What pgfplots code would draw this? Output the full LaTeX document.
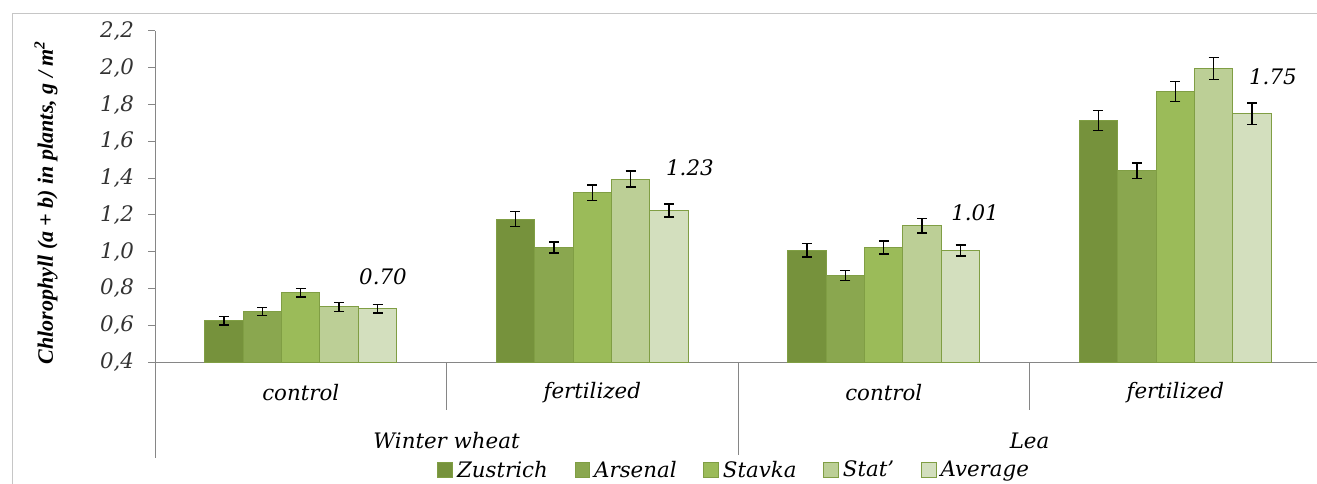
\documentclass[border=0pt]{standalone}
\usepackage{fontspec}
\setmainfont{DejaVu Serif}
\newfontfamily\tnr{Liberation Serif}
\usepackage{pgfplots}
\usepackage{pgfplotstable}
\pgfplotsset{compat=1.18}
\definecolor{cA}{RGB}{118,146,60}
\definecolor{cB}{RGB}{138,167,79}
\definecolor{cC}{RGB}{155,187,89}
\definecolor{cD}{RGB}{188,207,150}
\definecolor{cE}{RGB}{211,223,190}
\definecolor{cBorder}{RGB}{128,158,68}
\definecolor{axgray}{RGB}{134,134,134}
\newcommand\lab{\fontsize{16}{18}\selectfont\itshape}
\newcommand\ti[1]{\textit{\fontsize{16}{18}\selectfont #1}}

\pgfplotstableread{
x y e
0 0.624 0.023
1 1.177 0.040
2 1.007 0.036
3 1.713 0.054
}\zus
\pgfplotstableread{
x y e
0 0.675 0.023
1 1.023 0.030
2 0.871 0.026
3 1.440 0.043
}\ars
\pgfplotstableread{
x y e
0 0.777 0.024
1 1.320 0.043
2 1.023 0.035
3 1.871 0.056
}\sta
\pgfplotstableread{
x y e
0 0.700 0.024
1 1.395 0.043
2 1.141 0.040
3 1.996 0.060
}\stt
\pgfplotstableread{
x y e
0 0.690 0.024
1 1.224 0.036
2 1.007 0.030
3 1.751 0.058
}\avg

\pgfplotsset{
  mybar/.style={fill=#1, draw=cBorder, line width=0.75pt,
    error bars/y dir=both, error bars/y explicit,
    error bars/error bar style={black, line width=1pt},
    error bars/error mark options={rotate=90, black, mark size=3.75pt, line width=1pt}},
}

\begin{document}
\begin{tikzpicture}
\begin{axis}[
  at={(116.25pt,-271.5pt)}, anchor=south west,
  scale only axis, width=874.5pt, height=248.25pt,
  xmin=-0.5, xmax=3.5, ymin=0.4, ymax=2.2,
  ybar, bar width=0.1317,
  axis lines*=left,
  axis line style={draw=axgray, line width=0.75pt},
  xtick=\empty,
  ytick={0.4,0.6,0.8,1.0,1.2,1.4,1.6,1.8,2.0,2.2},
  yticklabels={\ti{0,4},\ti{0,6},\ti{0,8},\ti{1,0},\ti{1,2},\ti{1,4},\ti{1,6},\ti{1,8},\ti{2,0},\ti{2,2}},
  tick align=outside, major tick length=5.25pt,
  ytick style={draw=axgray, line width=0.75pt},
  yticklabel style={font=\lab, text=black!80, xshift=-7pt},
  clip=false,
  legend columns=5,
  legend style={at={(0.497,-0.326)}, anchor=center, draw=none, font=\lab,
    /tikz/every even column/.append style={column sep=18pt},
    /tikz/every odd column/.append style={column sep=1pt}},
  legend image code/.code={\draw[#1, line width=0.75pt] (0pt,-5.5pt) rectangle (11pt,5.5pt);},
]
\addplot[bar shift=-0.2634, mybar=cA] table[x=x, y=y, y error=e] {\zus};
\addlegendentry{Zustrich}
\addplot[bar shift=-0.1317, mybar=cB] table[x=x, y=y, y error=e] {\ars};
\addlegendentry{Arsenal}
\addplot[bar shift=0, mybar=cC] table[x=x, y=y, y error=e] {\sta};
\addlegendentry{Stavka}
\addplot[bar shift=0.1317, mybar=cD] table[x=x, y=y, y error=e] {\stt};
\addlegendentry{Stat'}
\addplot[bar shift=0.2634, mybar=cE] table[x=x, y=y, y error=e] {\avg};
\addlegendentry{Average}

\draw[axgray, line width=0.75pt] (axis cs:-0.5,0.4) -- ++(0pt,-72pt);
\draw[axgray, line width=0.75pt] (axis cs:1.5,0.4) -- ++(0pt,-72pt);
\draw[axgray, line width=0.75pt] (axis cs:0.5,0.4) -- ++(0pt,-36pt);
\draw[axgray, line width=0.75pt] (axis cs:2.5,0.4) -- ++(0pt,-36pt);
\draw[axgray, line width=0.75pt] (axis cs:3.5,0.4) -- ++(0pt,-36pt);

\node[font=\lab] at (axis cs:0,0.4) [yshift=-23.25pt] {control};
\node[font=\lab] at (axis cs:1,0.4) [yshift=-23.25pt] {fertilized};
\node[font=\lab] at (axis cs:2,0.4) [yshift=-23.25pt] {control};
\node[font=\lab] at (axis cs:3,0.4) [yshift=-23.25pt] {fertilized};
\node[font=\lab] at (axis cs:0.5,0.4) [yshift=-59.25pt] {Winter wheat};
\node[font=\lab] at (axis cs:2.5,0.4) [yshift=-59.25pt] {Lea};

\node[font=\lab] at (axis cs:0.282,0.862) {0.70};
\node[font=\lab] at (axis cs:1.335,1.454) {1.23};
\node[font=\lab] at (axis cs:2.313,1.210) {1.01};
\node[font=\lab] at (axis cs:3.335,1.949) {1.75};
\end{axis}
\node[rotate=90, font=\tnr\bfseries\itshape\fontsize{16.5}{18}\selectfont] at (34.5pt,-151.9pt)
  {Chlorophyll (\textit{a} + \textit{b}) in plants, g / m\textsuperscript{2}};
\draw[gray!45, line width=0.75pt] (9pt,-10.5pt) -- (1000pt,-10.5pt);
\draw[gray!45, line width=0.75pt] (9pt,-10.5pt) -- (9pt,-380pt);
\pgfresetboundingbox
\useasboundingbox (0pt,0pt) rectangle (987.75pt,-363pt);
\end{tikzpicture}
\end{document}
